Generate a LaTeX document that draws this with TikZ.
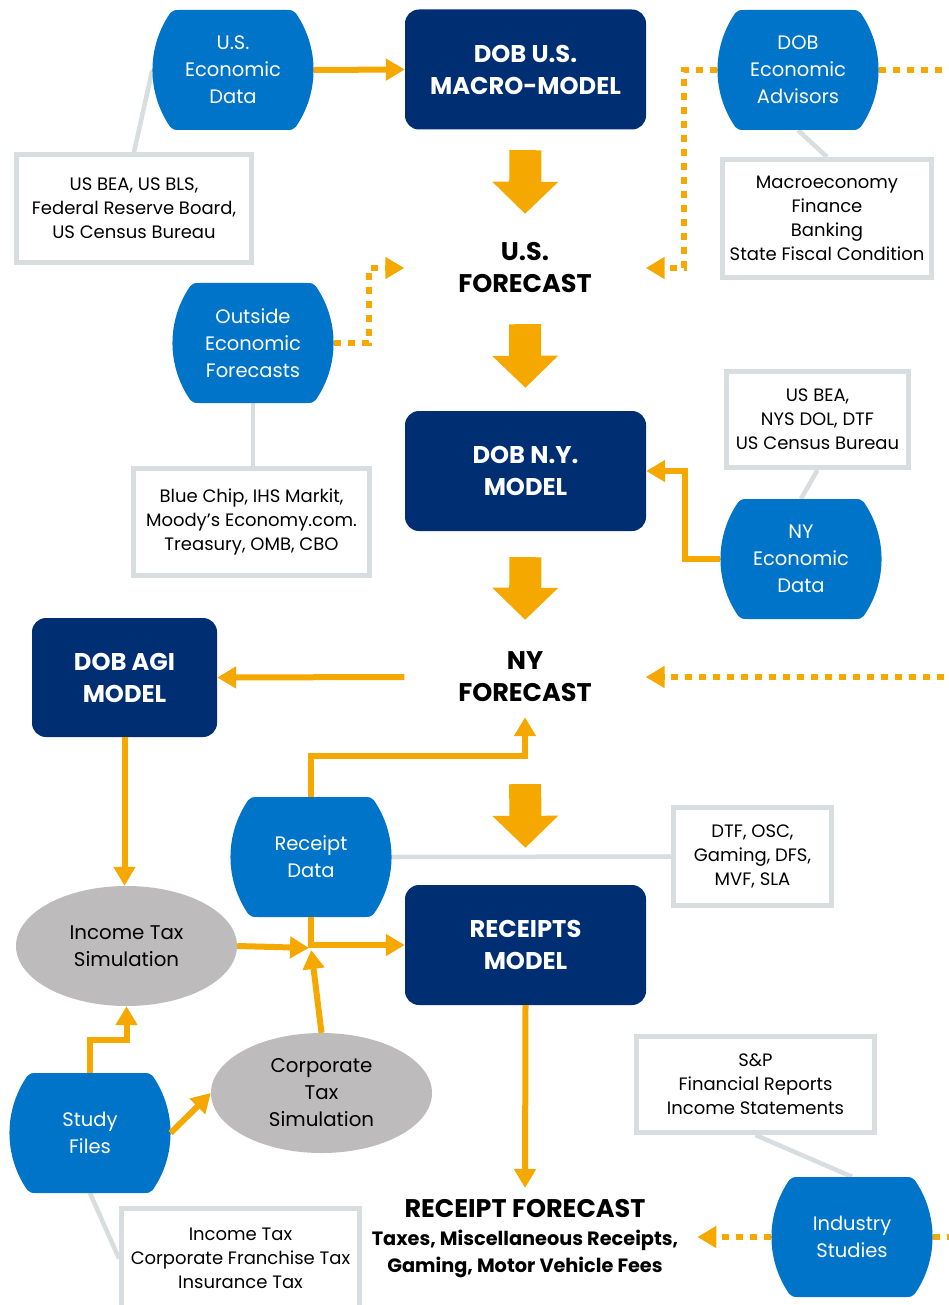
\documentclass[tikz,border=0pt]{standalone}
\usepackage{fontspec}
\setmainfont{Poppins}
\usetikzlibrary{arrows.meta,shapes.geometric,calc}
\pgfdeclarelayer{back}
\pgfdeclarelayer{bg}
\pgfsetlayers{back,bg,main}
\definecolor{drumblue}{RGB}{0,116,200}
\definecolor{navy}{RGB}{0,46,115}
\definecolor{aorange}{RGB}{245,168,0}
\definecolor{ellgray}{RGB}{189,187,187}
\definecolor{boxgray}{RGB}{216,221,224}
\tikzset{
 drumtext/.style={text=white,font=\fontsize{19.5}{27}\selectfont,align=center,minimum width=161pt,minimum height=120pt,inner sep=0pt},
 navybox/.style={fill=navy,rounded corners=14pt,text=white,font=\bfseries\fontsize{24.2}{32}\selectfont,align=center,minimum width=241pt,minimum height=120pt,inner sep=0pt},
 infobox/.style={draw=boxgray,line width=5pt,fill=white,align=center,font=\fontsize{18}{24}\selectfont,inner sep=0pt},
 simell/.style={ellipse,fill=ellgray,minimum width=221pt,minimum height=120pt,inner sep=0pt,align=center,font=\fontsize{19.8}{27}\selectfont},
 fctext/.style={align=center,font=\bfseries\fontsize{25.5}{32}\selectfont,inner sep=0pt,minimum width=241pt,minimum height=80pt},
 bigarrow/.style={draw=aorange,line width=32pt,-{Triangle[length=32pt,width=64pt]}},
 flow/.style={draw=aorange,line width=6pt,-{Triangle[length=19pt,width=21pt]}},
 dotflow/.style={flow,dash pattern=on 7pt off 7pt},
 dotline/.style={draw=aorange,line width=6.5pt,dash pattern=on 7pt off 7pt},
 infoline/.style={draw=boxgray,line width=4.5pt},
}
\newcommand\drumnode[4]{%
  \fill[drumblue,shift={(#2,#3)}] (-54,-60) -- (54,-60)
    .. controls (58,-60) and (61,-59.5) .. (62.7,-57)
    arc[start angle=-34.75,end angle=34.75,radius=100]
    .. controls (61,59.5) and (58,60) .. (54,60) -- (-54,60)
    .. controls (-58,60) and (-61,59.5) .. (-62.7,57)
    arc[start angle=145.25,end angle=214.75,radius=100]
    .. controls (-61,-59.5) and (-58,-60) .. (-54,-60) -- cycle;
  \node[drumtext] (#1) at (#2,#3) {#4};}
\begin{document}
\begin{tikzpicture}[x=1pt,y=1pt]
\useasboundingbox (0,0) rectangle (949,-1305);
\clip (0,0) rectangle (949,-1305);
\begin{pgfonlayer}{back}
\fill[white] (0,0) rectangle (949,-1305);
\end{pgfonlayer}
\coordinate (rt) at (958,0);
% drums
\drumnode{usdata}{233}{-70}{U.S.\\Economic\\Data}
\drumnode{adv}{798}{-70}{DOB\\Economic\\Advisors}
\drumnode{outside}{253}{-343}{Outside\\Economic\\Forecasts}
\drumnode{nydata}{801}{-559}{NY\\Economic\\Data}
\drumnode{rdata}{311}{-857}{Receipt\\Data}
\drumnode{study}{90}{-1133}{Study\\Files}
\drumnode{ind}{852}{-1237}{Industry\\Studies}
% models
\node[navybox] (macro) at (525.5,-69.5) {DOB U.S.\\MACRO-MODEL};
\node[navybox] (nymodel) at (525.5,-471) {DOB N.Y.\\MODEL};
\node[navybox,minimum width=185pt,minimum height=119pt] (agi) at (124.5,-677.5) {DOB AGI\\MODEL};
\node[navybox] (receipts) at (525.5,-945) {RECEIPTS\\MODEL};
% forecasts
\node[fctext] (usf) at (525,-268) {U.S.\\FORECAST};
\node[fctext] (nyf) at (525,-677) {NY\\FORECAST};
\node[align=center,inner sep=0pt,anchor=north,font=\bfseries\fontsize{19.3}{27}\selectfont] (rf) at (525,-1199)
  {{\fontsize{25.5}{27}\selectfont RECEIPT FORECAST}\\[1pt]Taxes, Miscellaneous Receipts,\\Gaming, Motor Vehicle Fees};
% info boxes
\node[infobox,minimum width=235pt,minimum height=108pt] (beabox) at (134,-208.5) {US BEA, US BLS,\\Federal Reserve Board,\\US Census Bureau};
\node[infobox,minimum width=209pt,minimum height=118pt] (advbox) at (827,-218.5) {Macroeconomy\\Finance\\Banking\\State Fiscal Condition};
\node[infobox,minimum width=236pt,minimum height=107pt] (bcbox) at (251.5,-522) {Blue Chip, IHS Markit,\\Moody’s Economy.com.\\Treasury, OMB, CBO};
\node[infobox,minimum width=182pt,minimum height=96pt] (nybox) at (817.5,-419.5) {US BEA,\\NYS DOL, DTF\\US Census Bureau};
\node[infobox,minimum width=158pt,minimum height=98pt] (dtfbox) at (752.5,-856.5) {DTF, OSC,\\Gaming, DFS,\\MVF, SLA};
\node[infobox,minimum width=238pt,minimum height=96pt] (spbox) at (755.5,-1084.5) {S\&P\\Financial Reports\\Income Statements};
\node[infobox,minimum width=238pt,minimum height=100pt] (incbox) at (240.5,-1258.5) {Income Tax\\Corporate Franchise Tax\\Insurance Tax};
% simulations
\node[simell] (itax) at (126.5,-946) {Income Tax\\Simulation};
\node[simell] (ctax) at (321.5,-1093) {Corporate\\Tax\\Simulation};
% info lines
\begin{pgfonlayer}{bg}
\draw[infoline] (beabox.north) -- (usdata.west);
\draw[infoline] (advbox.north) -- (adv.south);
\draw[infoline] (outside.south) -- (outside.south |- bcbox.north);
\draw[infoline] (nybox.south) -- (nydata.north);
\draw[infoline] (rdata.east) -- (dtfbox.west);
\draw[infoline] (spbox.south) -- (ind.north);
\draw[infoline] (study.south) -- (incbox.west);
\end{pgfonlayer}
% big arrows
\draw[bigarrow,shorten <=20.5pt,shorten >=14pt] (macro.south) -- (usf.north);
\draw[bigarrow,shorten <=16pt,shorten >=23pt] (usf.south) -- (nymodel.north);
\draw[bigarrow,shorten <=26pt,shorten >=17pt] (nymodel.south) -- (nyf.north);
\draw[bigarrow,shorten <=67pt,shorten >=37pt] (nyf.south) -- (receipts.north);
% flows
\draw[flow] (usdata.east) -- (macro.west);
\draw[dotflow] (adv.west) -- ++(-33,0) |- (usf.east);
\draw[dotflow] (outside.east) -- ++(35,0) |- (usf.west);
\draw[dotflow] (adv.east) -- (adv.east -| rt) |- (nyf.east);
\draw[dotline] (ind.east) -- (ind.east -| rt);
\draw[dotflow,shorten >=19pt] (ind.west) -- (rf.east |- ind.west);
\draw[flow] (nydata.west) -- ++(-35,0) |- (nymodel.east);
\draw[flow] (nyf.west) -- (agi.east);
\draw[flow] (agi.south) -- (agi.south |- itax.north);
\draw[flow] (rdata.north) -- ++(0,41) -| (nyf.south);
\draw[flow] (rdata.south) |- (receipts.west);
\coordinate (jn) at (311,-948);
\draw[flow,shorten >=2pt] (itax.east) -- (jn);
\draw[flow,shorten >=2pt] (ctax.north) -- (jn);
\draw[flow] (study.north) -- ++(0,33) -| (itax.south);
\draw[flow] (study.east) -- (ctax.west);
\draw[flow,shorten >=11pt] (receipts.south) -- (rf.north);
\end{tikzpicture}
\end{document}
